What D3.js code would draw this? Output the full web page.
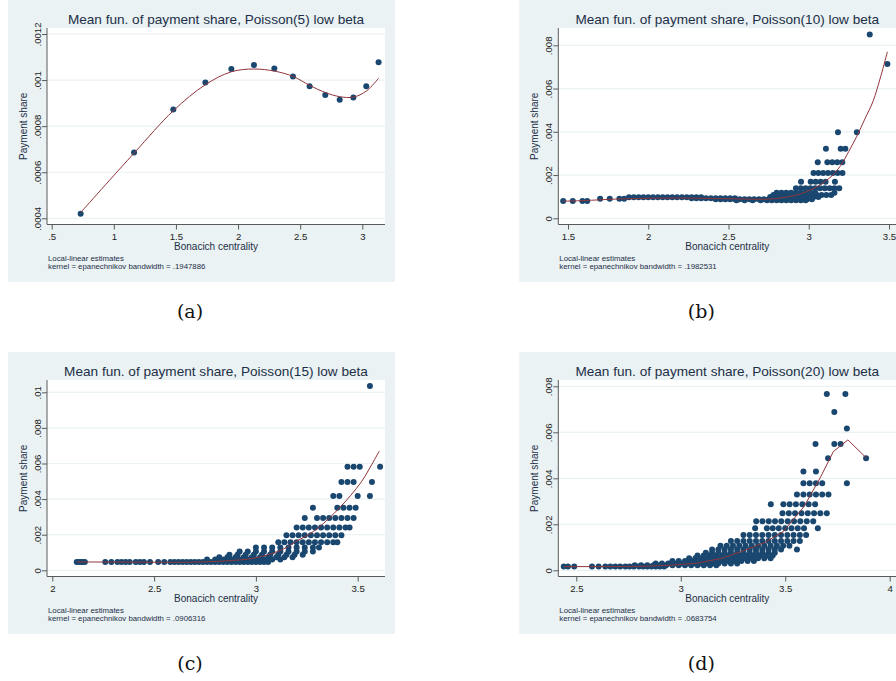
<!DOCTYPE html>
<html>
<head>
<meta charset="utf-8">
<script src="https://cdn.jsdelivr.net/npm/d3@7"></script>
<style>
  html, body { margin: 0; padding: 0; background: #fff; }
  svg { display: block; }
</style>
</head>
<body>
<svg id="fig" width="896" height="681"></svg>
<script>
// ---------- data ----------
const panelTitles = [
  "Mean fun. of payment share, Poisson(5) low beta",
  "Mean fun. of payment share, Poisson(10) low beta",
  "Mean fun. of payment share, Poisson(15) low beta",
  "Mean fun. of payment share, Poisson(20) low beta"
];
const bandwidths = [".1947886", ".1982531", ".0906316", ".0683754"];
const captions = ["(a)", "(b)", "(c)", "(d)"];

// x ticks / y ticks and their labels
const xTicksA = [0.5, 1, 1.5, 2, 2.5, 3];
const xLabelsA = [".5", "1", "1.5", "2", "2.5", "3"];
const yTicksA = [0.0004, 0.0006, 0.0008, 0.001, 0.0012];
const yLabelsA = [".0004", ".0006", ".0008", ".001", ".0012"];

const xTicksB = [1.5, 2, 2.5, 3, 3.5];
const xLabelsB = ["1.5", "2", "2.5", "3", "3.5"];
const yTicksB = [0, 0.002, 0.004, 0.006, 0.008];
const yLabelsB = ["0", ".002", ".004", ".006", ".008"];

const xTicksC = [2, 2.5, 3, 3.5];
const xLabelsC = ["2", "2.5", "3", "3.5"];
const yTicksC = [0, 0.002, 0.004, 0.006, 0.008, 0.01];
const yLabelsC = ["0", ".002", ".004", ".006", ".008", ".01"];

const xTicksD = [2.5, 3, 3.5, 4];
const xLabelsD = ["2.5", "3", "3.5", "4"];
const yTicksD = [0, 0.002, 0.004, 0.006, 0.008];
const yLabelsD = ["0", ".002", ".004", ".006", ".008"];

// Poisson(5): [centrality, payment share]
const pointsA = [
  [0.733, 0.000420], [1.163, 0.000686], [1.479, 0.000872], [1.737, 0.000989],
  [1.946, 0.001048], [2.128, 0.001065], [2.292, 0.001050], [2.442, 0.001015],
  [2.576, 0.000973], [2.702, 0.000935], [2.818, 0.000915], [2.928, 0.000924],
  [3.032, 0.000973], [3.131, 0.001077]
];
const fitA = [
  [0.733, 0.000425], [1.163, 0.000683], [1.479, 0.000867], [1.737, 0.000980],
  [1.946, 0.001036], [2.128, 0.001048], [2.292, 0.001039], [2.442, 0.001016],
  [2.576, 0.000977], [2.702, 0.000946], [2.818, 0.000928], [2.928, 0.000926],
  [3.032, 0.000952], [3.131, 0.001008]
];

// Poisson(10): rows of [payment share, centrality values]
const rowsB = [
  [0.00080, [1.47, 1.53, 1.59, 1.62]],
  [0.00090, [1.70, 1.76, 1.82, 1.85]],
  [0.00097, [1.88, 1.91, 1.94, 1.97, 2.00, 2.03, 2.06, 2.09, 2.12, 2.15, 2.18, 2.21, 2.24, 2.27, 2.30, 2.33]],
  [0.00093, [2.27, 2.30, 2.33, 2.36, 2.39, 2.42, 2.45, 2.48, 2.51, 2.54]],
  [0.00088, [2.42, 2.45, 2.48, 2.51, 2.54, 2.57, 2.60, 2.63, 2.66, 2.69, 2.72, 2.75, 2.78, 2.81, 2.84, 2.87, 2.90, 2.93, 2.96, 2.99, 3.02]],
  [0.00083, [2.55, 2.60, 2.65, 2.70, 2.74, 2.77, 2.80, 2.83, 2.86, 2.89, 2.92, 2.95, 2.98]],
  [0.00098, [2.76, 2.79, 2.82, 2.85, 2.88, 2.91, 2.94, 2.97, 3.00, 3.03, 3.06]],
  [0.00108, [2.78, 2.81, 2.84, 2.87, 2.90, 2.93, 2.96, 2.99, 3.02, 3.05, 3.08, 3.11, 3.14]],
  [0.00118, [2.80, 2.83, 2.86, 2.89, 2.92, 2.95, 2.98, 3.01, 3.04, 3.16]],
  [0.00139, [2.92, 2.95, 2.98, 3.01, 3.04, 3.07, 3.10, 3.13, 3.16, 3.19]],
  [0.00169, [2.952, 3.012, 3.043, 3.074, 3.105, 3.163]],
  [0.00210, [3.03, 3.06, 3.09, 3.12, 3.15, 3.18, 3.21]],
  [0.00259, [3.056, 3.116, 3.147, 3.178, 3.209]],
  [0.00322, [3.107, 3.199, 3.228]],
  [0.00398, [3.182, 3.30]],
  [0.00714, [3.49]],
  [0.00850, [3.38]]
];
const fitB = [
  [1.47, 0.00079], [1.60, 0.00082], [1.80, 0.00089], [2.00, 0.00093], [2.20, 0.00094],
  [2.40, 0.00092], [2.60, 0.00089], [2.76, 0.00089], [2.85, 0.00097], [2.92, 0.00107],
  [3.00, 0.00127], [3.05, 0.00146], [3.10, 0.00170], [3.15, 0.00200], [3.20, 0.00245],
  [3.25, 0.00310], [3.30, 0.00380], [3.35, 0.00460], [3.40, 0.00540], [3.45, 0.00660],
  [3.49, 0.00770]
];

// Poisson(15)
const rowsC = [
  [0.00047, [2.12, 2.13, 2.14, 2.15, 2.16, 2.26, 2.29, 2.32, 2.34, 2.36, 2.38, 2.41, 2.43, 2.45, 2.48, 2.52, 2.55, 2.58, 2.60, 2.62, 2.64, 2.66, 2.68, 2.70, 2.72, 2.74, 2.76, 2.78, 2.80, 2.82, 2.84, 2.86, 2.88, 2.90, 2.92, 2.94, 2.96, 2.98, 3.00, 3.02, 3.04, 3.06]],
  [0.00060, [2.76, 2.80, 2.84, 2.88, 2.92, 2.96, 3.00, 3.04, 3.08, 3.12]],
  [0.00073, [2.82, 2.86, 2.90, 2.94, 2.98, 3.02, 3.06, 3.10, 3.14, 3.18]],
  [0.00088, [2.87, 2.91, 2.95, 2.99, 3.03, 3.07, 3.11, 3.15, 3.19, 3.23]],
  [0.00106, [2.92, 2.96, 3.00, 3.04, 3.08, 3.12, 3.16, 3.20, 3.24, 3.28]],
  [0.00128, [3.00, 3.04, 3.08, 3.12, 3.16, 3.20, 3.24, 3.28, 3.31]],
  [0.00157, [3.11, 3.14, 3.17, 3.20, 3.23, 3.26, 3.29, 3.32, 3.35, 3.38, 3.40]],
  [0.00197, [3.15, 3.18, 3.21, 3.24, 3.27, 3.30, 3.33, 3.36, 3.39, 3.42]],
  [0.00241, [3.20, 3.23, 3.26, 3.29, 3.32, 3.35, 3.38, 3.41, 3.44, 3.46]],
  [0.00294, [3.24, 3.30, 3.33, 3.36, 3.39, 3.42, 3.45, 3.48]],
  [0.00352, [3.28, 3.40, 3.43, 3.46, 3.49]],
  [0.00417, [3.38, 3.41, 3.50, 3.56]],
  [0.00496, [3.42, 3.45, 3.48, 3.57]],
  [0.00582, [3.45, 3.48, 3.51, 3.61]],
  [0.01035, [3.56]]
];
const fitC = [
  [2.12, 0.00047], [2.40, 0.00046], [2.70, 0.00046], [2.85, 0.00053], [3.00, 0.00070],
  [3.136, 0.00120], [3.193, 0.00160], [3.259, 0.00200], [3.308, 0.00240], [3.357, 0.00290],
  [3.41, 0.00350], [3.465, 0.00420], [3.52, 0.00500], [3.562, 0.00580], [3.606, 0.00670]
];

// Poisson(20)
const rowsD = [
  [0.00016, [2.44, 2.46, 2.49, 2.575, 2.607, 2.639, 2.663, 2.687, 2.71, 2.735, 2.755, 2.775, 2.80, 2.82, 2.84, 2.86, 2.88, 2.90, 2.92]],
  [0.00022, [2.78, 2.81, 2.84, 2.87, 2.90, 2.93, 2.96, 2.99, 3.02, 3.05, 3.08, 3.11, 3.14, 3.17]],
  [0.00030, [2.88, 2.91, 2.94, 2.97, 3.00, 3.03, 3.06, 3.09, 3.12, 3.15, 3.18, 3.21, 3.24, 3.27]],
  [0.00040, [2.96, 2.99, 3.02, 3.05, 3.08, 3.11, 3.14, 3.17, 3.20, 3.23, 3.26, 3.29, 3.32, 3.35]],
  [0.00052, [3.04, 3.07, 3.10, 3.13, 3.16, 3.19, 3.22, 3.25, 3.28, 3.31, 3.34, 3.37, 3.40, 3.43]],
  [0.00064, [3.08, 3.11, 3.14, 3.17, 3.20, 3.23, 3.26, 3.29, 3.32, 3.35, 3.38, 3.41, 3.44]],
  [0.00076, [3.12, 3.15, 3.18, 3.21, 3.24, 3.27, 3.30, 3.33, 3.36, 3.39, 3.42, 3.45]],
  [0.00090, [3.15, 3.18, 3.21, 3.24, 3.27, 3.30, 3.33, 3.36, 3.39, 3.42, 3.45, 3.48, 3.556]],
  [0.00107, [3.19, 3.22, 3.25, 3.28, 3.31, 3.34, 3.37, 3.40, 3.43, 3.46, 3.49, 3.52]],
  [0.00127, [3.24, 3.27, 3.30, 3.33, 3.36, 3.39, 3.42, 3.45, 3.48, 3.51, 3.54, 3.57]],
  [0.00153, [3.30, 3.33, 3.36, 3.39, 3.42, 3.45, 3.48, 3.51, 3.54, 3.57, 3.60]],
  [0.00183, [3.356, 3.412, 3.440, 3.469, 3.500, 3.530, 3.560, 3.590, 3.656]],
  [0.00213, [3.361, 3.391, 3.421, 3.451, 3.481, 3.512, 3.542, 3.572, 3.603, 3.634]],
  [0.00248, [3.487, 3.517, 3.547, 3.578, 3.608, 3.638, 3.668, 3.699]],
  [0.00287, [3.431, 3.491, 3.521, 3.551, 3.582, 3.612, 3.643]],
  [0.00330, [3.556, 3.587, 3.617, 3.647, 3.677, 3.707]],
  [0.00378, [3.587, 3.617, 3.647, 3.677, 3.795]],
  [0.00430, [3.587, 3.647]],
  [0.00487, [3.705, 3.887]],
  [0.00549, [3.645, 3.735, 3.765]],
  [0.00616, [3.795]],
  [0.00688, [3.735]],
  [0.00767, [3.699, 3.788]]
];
const fitD = [
  [2.44, 0.00016], [2.60, 0.00016], [2.80, 0.00017], [2.95, 0.00022], [3.08, 0.00031],
  [3.20, 0.00053], [3.30, 0.00085], [3.40, 0.00120], [3.49, 0.00168], [3.59, 0.00277],
  [3.67, 0.00407], [3.73, 0.00516], [3.80, 0.00567], [3.89, 0.00487]
];

// ---------- drawing ----------
const NAVY = "#1a476f";
const MAROON = "#90353b";
const BG = "#eaf2f3";
const INK = "#1d2f48";
const AXIS = "#5a5a5a";
const SANS = "'Liberation Sans', Arial, Helvetica, sans-serif";

const svg = d3.select("#fig");
const rowsToPoints = rows => rows.flatMap(([yv, xs]) => xs.map(xv => [xv, yv]));

function drawPanel(p) {
  const g = svg.append("g").attr("transform", `translate(${p.ox},${p.oy})`);
  const L = 47, R = 385, T = 28, B = 224.5;

  // graph region and plot region
  g.append("rect").attr("x", 8).attr("y", 0).attr("width", 387).attr("height", 282).attr("fill", BG);
  g.append("rect").attr("x", L).attr("y", T).attr("width", R - L).attr("height", B - T).attr("fill", "#fff");

  const x = d3.scaleLinear().domain(p.xCal).range(p.xPix);
  const y = d3.scaleLinear().domain(p.yCal).range(p.yPix);

  // horizontal gridlines
  g.append("g").selectAll("line").data(p.yTicks).join("line")
    .attr("x1", L).attr("x2", R)
    .attr("y1", d => y(d)).attr("y2", d => y(d))
    .attr("stroke", BG).attr("stroke-width", 1.2);

  // scatter
  g.append("g").selectAll("circle").data(p.points).join("circle")
    .attr("cx", d => x(d[0])).attr("cy", d => y(d[1]))
    .attr("r", 3).attr("fill", NAVY);

  // local-linear fit
  const line = d3.line().x(d => x(d[0])).y(d => y(d[1])).curve(p.curve);
  g.append("path").datum(p.fit).attr("d", line)
    .attr("fill", "none").attr("stroke", MAROON).attr("stroke-width", 1);

  // axes
  const xAxis = d3.axisBottom(x).tickValues(p.xTicks)
    .tickFormat((d, i) => p.xLabels[i]).tickSize(5).tickPadding(3);
  const gx = g.append("g").attr("transform", `translate(0,${B})`).call(xAxis);
  gx.select(".domain").remove();
  gx.selectAll("line").attr("stroke", AXIS);
  gx.selectAll("text").attr("font-family", SANS).attr("font-size", 9.6).attr("fill", "#222")
    .attr("y", 15).attr("dy", 0);

  const yAxis = d3.axisLeft(y).tickValues(p.yTicks)
    .tickFormat((d, i) => p.yLabels[i]).tickSize(5);
  const gy = g.append("g").attr("transform", `translate(${L},0)`).call(yAxis);
  gy.select(".domain").remove();
  gy.selectAll("line").attr("stroke", AXIS);
  gy.selectAll("text").attr("font-family", SANS).attr("font-size", 9.6).attr("fill", "#222")
    .attr("transform", "rotate(-90)").attr("x", 0).attr("y", -6.5).attr("dy", 0)
    .attr("text-anchor", "middle");

  g.append("line").attr("x1", L).attr("x2", L).attr("y1", T).attr("y2", B)
    .attr("stroke", AXIS).attr("stroke-width", 1);
  g.append("line").attr("x1", L).attr("x2", R).attr("y1", B).attr("y2", B)
    .attr("stroke", AXIS).attr("stroke-width", 1);

  // texts
  g.append("text").attr("x", (L + R) / 2).attr("y", 23.5).attr("text-anchor", "middle")
    .attr("font-family", SANS).attr("font-size", 13.6).attr("fill", INK).text(p.title);
  g.append("text").attr("x", (L + R) / 2).attr("y", B + 25.5).attr("text-anchor", "middle")
    .attr("font-family", SANS).attr("font-size", 10).attr("fill", INK).text("Bonacich centrality");
  g.append("text").attr("transform", `translate(${L - 20},${(T + B) / 2}) rotate(-90)`)
    .attr("text-anchor", "middle")
    .attr("font-family", SANS).attr("font-size", 10).attr("fill", INK).text("Payment share");
  g.append("text").attr("x", L + 1).attr("y", B + 36.5)
    .attr("font-family", SANS).attr("font-size", 7.8).attr("fill", INK).text("Local-linear estimates");
  g.append("text").attr("x", L + 1).attr("y", B + 44.5)
    .attr("font-family", SANS).attr("font-size", 7.8).attr("fill", INK)
    .text("kernel = epanechnikov bandwidth = " + p.bandwidth);

  // sub-figure caption
  g.append("text").attr("x", 190).attr("y", 318).attr("text-anchor", "middle")
    .attr("font-family", "'DejaVu Serif', 'Liberation Serif', serif").attr("font-size", 19)
    .attr("font-weight", 300).attr("fill", "#111").text(p.caption);
}

const panels = [
  { ox: 0, oy: 0, title: panelTitles[0], bandwidth: bandwidths[0], caption: captions[0],
    xCal: [0.5, 3], xPix: [51.7, 362.3], yCal: [0.0004, 0.0012], yPix: [218.3, 34],
    xTicks: xTicksA, xLabels: xLabelsA, yTicks: yTicksA, yLabels: yLabelsA,
    points: pointsA, fit: fitA, curve: d3.curveCatmullRom },
  { ox: 511.3, oy: 0, title: panelTitles[1], bandwidth: bandwidths[1], caption: captions[1],
    xCal: [1.5, 3.5], xPix: [56.7, 377.7], yCal: [0, 0.008], yPix: [218.3, 45.3],
    xTicks: xTicksB, xLabels: xLabelsB, yTicks: yTicksB, yLabels: yLabelsB,
    points: rowsToPoints(rowsB), fit: fitB, curve: d3.curveCatmullRom },
  { ox: 0, oy: 352, title: panelTitles[2], bandwidth: bandwidths[2], caption: captions[2],
    xCal: [2, 3.5], xPix: [52.3, 357.7], yCal: [0, 0.01], yPix: [218.3, 40.3],
    xTicks: xTicksC, xLabels: xLabelsC, yTicks: yTicksC, yLabels: yLabelsC,
    points: rowsToPoints(rowsC), fit: fitC, curve: d3.curveCatmullRom },
  { ox: 511.3, oy: 352, title: panelTitles[3], bandwidth: bandwidths[3], caption: captions[3],
    xCal: [2.5, 4], xPix: [65, 378.4], yCal: [0, 0.008], yPix: [218.3, 34.3],
    xTicks: xTicksD, xLabels: xLabelsD, yTicks: yTicksD, yLabels: yLabelsD,
    points: rowsToPoints(rowsD), fit: fitD, curve: d3.curveLinear }
];

panels.forEach(drawPanel);
</script>
</body>
</html>
